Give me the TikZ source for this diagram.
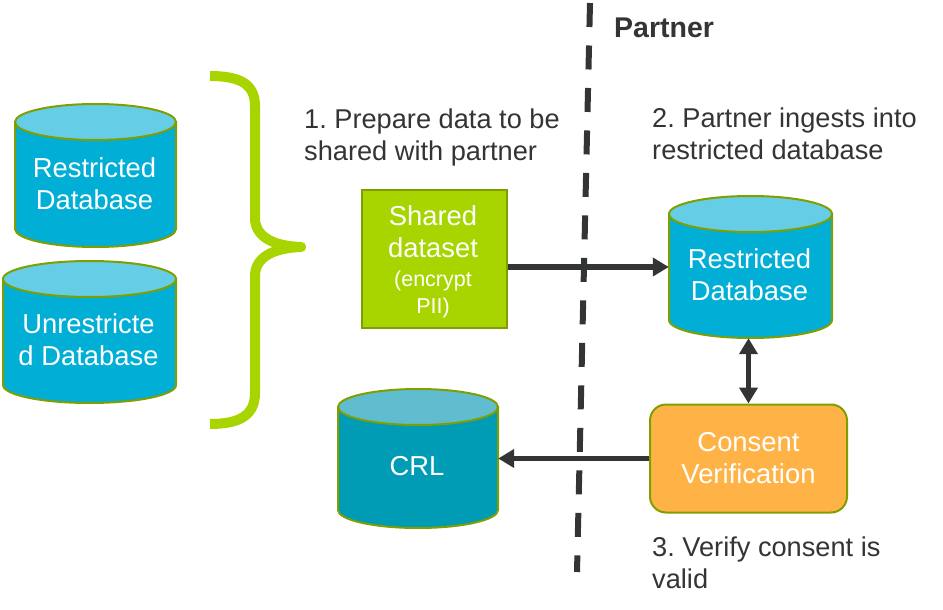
\documentclass[tikz,border=0pt]{standalone}
\usepackage{fontspec}
\setmainfont{Liberation Sans}
\usetikzlibrary{arrows.meta}
\definecolor{leaf}{HTML}{A8D400}
\definecolor{rimc}{HTML}{7F9F00}
\definecolor{blueb}{HTML}{00AED6}
\definecolor{bluet}{HTML}{66CDE6}
\definecolor{crlb}{HTML}{009BB5}
\definecolor{crlt}{HTML}{60BDD0}
\definecolor{amber}{HTML}{FFB347}
\definecolor{ink}{HTML}{333436}
\frenchspacing
\tikzset{
  body/.style={font=\fontsize{27.4}{32}\selectfont,text=white,align=center,inner sep=0pt},
  note/.style={font=\fontsize{27.2}{32}\selectfont,text=ink,align=left,inner sep=0pt,anchor=base west},
  rim/.style={draw=rimc,line width=2pt},
  flow/.style={draw=ink,line width=5.5pt,-{Triangle[length=16pt,width=18pt]}},
  bothflow/.style={draw=ink,line width=5.5pt,{Triangle[length=16pt,width=18pt]}-{Triangle[length=16pt,width=18pt]}}
}
% name, x1, x2, ytop, ybottom, body colour, top colour, text
\newcommand{\dbcyl}[8]{%
  \pgfmathsetmacro{\cxm}{(#2+#3)/2}
  \pgfmathsetmacro{\crx}{(#3-#2)/2}
  \pgfmathsetmacro{\cymid}{(#4+#5)/2}
  \pgfmathsetmacro{\cya}{#4+18}
  \pgfmathsetmacro{\cyb}{#5-18}
  \path[rim,fill=#6] (#2,\cya) -- (#2,\cyb) arc[start angle=180,end angle=360,x radius=\crx,y radius=-18] -- (#3,\cya) -- cycle;
  \path[rim,fill=#7] (\cxm,\cya) ellipse[x radius=\crx,y radius=18];
  \node[inner sep=0pt,minimum width=#3pt-#2pt,minimum height=#5pt-#4pt,
        label={[body,xshift=-1pt,yshift=-8pt]center:#8}] (#1) at (\cxm,\cymid) {};
}
\begin{document}
\begin{tikzpicture}[x=1pt,y=-1pt]
\useasboundingbox (0,0) rectangle (943,610);
% divider
\coordinate (divtop) at (590,3);
\coordinate (divbot) at (577,572);
\draw[ink,line width=6pt,dash pattern=on 24pt off 18.5pt] (divtop) -- (divbot);
% databases
\dbcyl{ra}{15}{176}{104}{247}{blueb}{bluet}{Restricted\\Database}
\dbcyl{ua}{3}{176}{261}{403}{blueb}{bluet}{Unrestricte\\d Database}
\dbcyl{rb}{669}{832}{196}{338}{blueb}{bluet}{Restricted\\Database}
\dbcyl{crl}{338}{498}{389}{528}{crlb}{crlt}{CRL}
% brace
\coordinate (bracetop) at (210,76);
\coordinate (bracetip) at (301,247);
\coordinate (bracebot) at (210,424);
\draw[leaf,line width=10pt,line join=round]
  (bracetop) .. controls (240,76) and (255,84) .. (255,106)
  -- (255,218) .. controls (255,236) and (272,246) .. (bracetip)
  .. controls (272,248) and (255,258) .. (255,276)
  -- (255,393) .. controls (255,415) and (240,424) .. (bracebot);
\fill[leaf] (bracetip) circle[radius=5pt];
% boxes
\node[rim,fill=leaf,minimum width=145pt,minimum height=138pt,inner sep=0pt] (shared) at (434.5,258.5) {};
\node[body,anchor=base] (sharedt) at (433,257) {Shared\\dataset};
\node[body,anchor=base,font=\fontsize{21.5}{27}\selectfont] (sharedn) at (433,313) {(encrypt\\PII)};
\node[rim,fill=amber,rounded corners=16pt,minimum width=197pt,minimum height=108pt,
      body] (consent) at (748.5,458.5) {Consent\\Verification};
% connectors
\draw[flow] ([yshift=-8.5pt]shared.east) -- ([yshift=-8.5pt]shared.east -| rb.west);
\draw[bothflow] (rb.south -| consent.north) -- (consent.north);
\draw[flow] (consent.west) -- (consent.west -| crl.east);
% labels
\node[note,font=\fontsize{28.5}{32}\bfseries\selectfont] (ptn) at (614,38) {Partner};
\node[note] (s1) at (304,160) {1. Prepare data to be\\shared with partner};
\node[note] (s2) at (652,159) {2. Partner ingests into\\restricted database};
\node[note] (s3) at (652,588) {3. Verify consent is\\valid};
\end{tikzpicture}
\end{document}
